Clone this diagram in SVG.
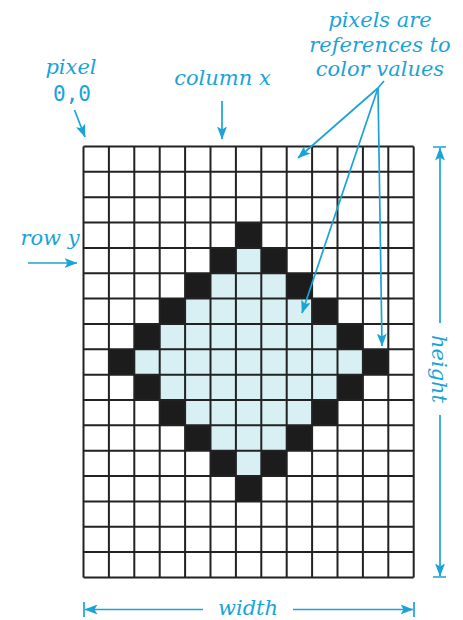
<svg xmlns="http://www.w3.org/2000/svg" width="463" height="620" viewBox="0 0 463 620">
<defs>
<marker id="ah" viewBox="0 0 13 10" refX="12.5" refY="5" markerWidth="13" markerHeight="10" markerUnits="userSpaceOnUse" orient="auto">
<path d="M0,0 L13,5 L0,10 L3,5 z" fill="#1aa3d9"/>
</marker>
</defs>
<style>
.lbl{font-family:"DejaVu Serif","Liberation Serif",serif;font-style:italic;font-size:21px;fill:#1aa3d9}
.mono{font-family:"DejaVu Sans Mono","Liberation Mono",monospace;font-size:21px;fill:#1aa3d9}
.ar{stroke:#1aa3d9;stroke-width:1.7;fill:none;marker-end:url(#ah)}
.ln{stroke:#1aa3d9;stroke-width:1.7;fill:none}
.lt{fill:#d8f0f4}
.bk{fill:#1c1c1c}
.grid{stroke:#222;stroke-width:2;fill:none}
</style>
<rect width="463" height="620" fill="#fff"/>
<g id="pixel-grid">
<g id="fill-light">
<rect class="lt" x="235.9" y="247.9" width="25.4" height="25.35"/>
<rect class="lt" x="210.5" y="273.25" width="76.2" height="25.35"/>
<rect class="lt" x="185.1" y="298.6" width="127" height="25.35"/>
<rect class="lt" x="159.7" y="323.95" width="177.8" height="25.35"/>
<rect class="lt" x="134.3" y="349.3" width="228.6" height="25.35"/>
<rect class="lt" x="159.7" y="374.65" width="177.8" height="25.35"/>
<rect class="lt" x="185.1" y="400" width="127" height="25.35"/>
<rect class="lt" x="210.5" y="425.35" width="76.2" height="25.35"/>
<rect class="lt" x="235.9" y="450.7" width="25.4" height="25.35"/>
</g>
<g id="fill-black">
<rect class="bk" x="235.9" y="222.55" width="25.4" height="25.35"/>
<rect class="bk" x="210.5" y="247.9" width="25.4" height="25.35"/>
<rect class="bk" x="261.3" y="247.9" width="25.4" height="25.35"/>
<rect class="bk" x="185.1" y="273.25" width="25.4" height="25.35"/>
<rect class="bk" x="286.7" y="273.25" width="25.4" height="25.35"/>
<rect class="bk" x="159.7" y="298.6" width="25.4" height="25.35"/>
<rect class="bk" x="312.1" y="298.6" width="25.4" height="25.35"/>
<rect class="bk" x="134.3" y="323.95" width="25.4" height="25.35"/>
<rect class="bk" x="337.5" y="323.95" width="25.4" height="25.35"/>
<rect class="bk" x="108.9" y="349.3" width="25.4" height="25.35"/>
<rect class="bk" x="362.9" y="349.3" width="25.4" height="25.35"/>
<rect class="bk" x="134.3" y="374.65" width="25.4" height="25.35"/>
<rect class="bk" x="337.5" y="374.65" width="25.4" height="25.35"/>
<rect class="bk" x="159.7" y="400" width="25.4" height="25.35"/>
<rect class="bk" x="312.1" y="400" width="25.4" height="25.35"/>
<rect class="bk" x="185.1" y="425.35" width="25.4" height="25.35"/>
<rect class="bk" x="286.7" y="425.35" width="25.4" height="25.35"/>
<rect class="bk" x="210.5" y="450.7" width="25.4" height="25.35"/>
<rect class="bk" x="261.3" y="450.7" width="25.4" height="25.35"/>
<rect class="bk" x="235.9" y="476.05" width="25.4" height="25.35"/>
</g>
<path class="grid" d="M83.5,146.5V577.45M108.9,146.5V577.45M134.3,146.5V577.45M159.7,146.5V577.45M185.1,146.5V577.45M210.5,146.5V577.45M235.9,146.5V577.45M261.3,146.5V577.45M286.7,146.5V577.45M312.1,146.5V577.45M337.5,146.5V577.45M362.9,146.5V577.45M388.3,146.5V577.45M413.7,146.5V577.45
M83.5,146.5H413.7M83.5,171.85H413.7M83.5,197.2H413.7M83.5,222.55H413.7M83.5,247.9H413.7M83.5,273.25H413.7M83.5,298.6H413.7M83.5,323.95H413.7M83.5,349.3H413.7M83.5,374.65H413.7M83.5,400H413.7M83.5,425.35H413.7M83.5,450.7H413.7M83.5,476.05H413.7M83.5,501.4H413.7M83.5,526.75H413.7M83.5,552.1H413.7M83.5,577.45H413.7"/>
</g>
<g id="label-pixel00">
<text class="lbl" x="71" y="74" text-anchor="middle">pixel</text>
<text class="mono" x="72" y="101" text-anchor="middle">0,0</text>
</g>
<g id="label-column">
<text class="lbl" x="222.5" y="85" text-anchor="middle">column x</text>
</g>
<g id="label-row">
<text class="lbl" x="50" y="245" text-anchor="middle">row y</text>
</g>
<g id="label-refs">
<text class="lbl" x="380" y="27" text-anchor="middle">pixels are</text>
<text class="lbl" x="380" y="52" text-anchor="middle">references to</text>
<text class="lbl" x="380" y="76" text-anchor="middle">color values</text>
</g>
<g id="label-height">
<text class="lbl" x="0" y="0" text-anchor="middle" transform="translate(432,369) rotate(90)">height</text>
</g>
<g id="label-width">
<text class="lbl" x="248" y="615" text-anchor="middle">width</text>
</g>
<g id="connectors">
<path class="ar" d="M74.5,110L85,137"/>
<path class="ar" d="M222,101V139"/>
<path class="ar" d="M28,263H77"/>
<path class="ln" d="M384,81L378,88"/>
<path class="ar" d="M378,88L298,158"/>
<path class="ar" d="M378,88L302,313"/>
<path class="ar" d="M378,88L382,346"/>
<path class="ln" d="M433,147H446M433,577H446"/>
<path class="ar" d="M440,323V148"/>
<path class="ar" d="M440,415V576"/>
<path class="ln" d="M84,602V617M414,602V617"/>
<path class="ar" d="M203,609.5H85"/>
<path class="ar" d="M293,609.5H413"/>
</g>
</svg>
